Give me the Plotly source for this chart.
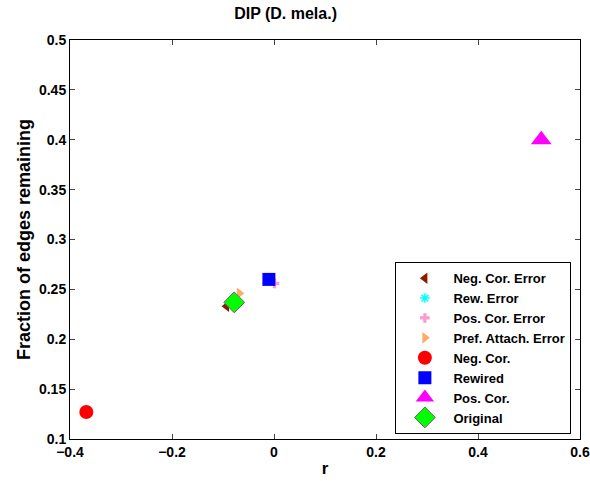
import plotly.graph_objects as go

names = ["Neg. Cor. Error", "Rew. Error", "Pos. Cor. Error", "Pref. Attach. Error",
         "Neg. Cor.", "Rewired", "Pos. Cor.", "Original"]
r_vals = [-0.093, -0.010, 0.001, -0.068, -0.368, -0.010, 0.524, -0.078]
frac_vals = [0.233, 0.259, 0.256, 0.246, 0.127, 0.260, 0.400, 0.237]
symbols = ["triangle-left", "asterisk-open", "cross", "triangle-right",
           "circle", "square", "triangle-up", "diamond"]
colors = ["#8B1A00", "#00FFFF", "#FF99CC", "#FFAA66",
          "#FF0000", "#0000FF", "#FF00FF", "#00FF00"]
sizes = [10, 8, 8, 10, 14, 13, 18, 16]

fig = go.Figure()
for n, xv, yv, s, c, sz in zip(names, r_vals, frac_vals, symbols, colors, sizes):
    if s == "diamond":
        line = dict(width=1, color="#666666")
    elif s == "asterisk-open":
        line = dict(width=1.5, color=c)
    else:
        line = dict(width=0, color=c)
    fig.add_trace(go.Scatter(x=[xv], y=[yv], mode="markers", name=n,
                             marker=dict(symbol=s, color=c, size=sz, line=line)))

fam = "Liberation Sans, Arial, sans-serif"
fig.update_layout(
    width=590, height=481,
    margin=dict(l=70, r=10, t=40, b=42),
    paper_bgcolor="white", plot_bgcolor="white",
    title=dict(text="<b>DIP (D. mela.)</b>", x=0.484, xanchor="center",
               y=1 - 13 / 481, yanchor="middle", font=dict(family=fam, size=16, color="black")),
    font=dict(family=fam, size=14, color="black"),
    showlegend=True,
    legend=dict(x=0.638, y=0.012, xanchor="left", yanchor="bottom",
                bordercolor="black", borderwidth=1, bgcolor="white",
                font=dict(family=fam, size=13, color="black", weight="bold"),
                tracegroupgap=0, itemsizing="trace", itemwidth=47),
)
fig.update_xaxes(range=[-0.4, 0.6], tickvals=[-0.4, -0.2, 0, 0.2, 0.4, 0.6],
                 ticktext=["<b>−0.4</b>", "<b>−0.2</b>", "<b>0</b>", "<b>0.2</b>", "<b>0.4</b>", "<b>0.6</b>"],
                 ticks="inside", ticklen=5, showline=True, linecolor="black", linewidth=1,
                 mirror="ticks", showgrid=False, zeroline=False, automargin=False,
                 title=dict(text="<b>r</b>", standoff=3, font=dict(size=17)))
ytv = [0.1, 0.15, 0.2, 0.25, 0.3, 0.35, 0.4, 0.45, 0.5]
fig.update_yaxes(range=[0.1, 0.5], tickvals=ytv, ticktext=["<b>%g</b>" % v for v in ytv],
                 ticks="inside", ticklen=5, showline=True, linecolor="black", linewidth=1,
                 mirror="ticks", showgrid=False, zeroline=False, automargin=False,
                 title=dict(text="<b>Fraction of edges remaining</b>", standoff=3, font=dict(size=18)))
fig.write_html("out.html")
